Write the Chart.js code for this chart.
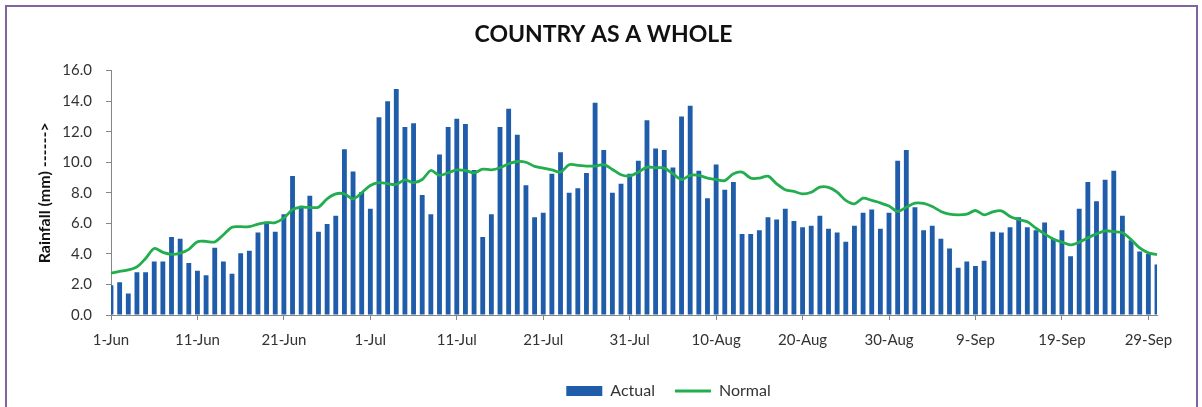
<!DOCTYPE html>
<html>
<head>
<meta charset="utf-8">
<title>Country as a whole - daily rainfall</title>
<script src="https://cdn.jsdelivr.net/npm/chart.js@4.4.1/dist/chart.umd.min.js"></script>
<style>
  html, body { margin: 0; padding: 0; background: #fff; }
  #wrap { position: relative; width: 1202px; height: 407px; overflow: hidden; }
  #frame {
    position: absolute; left: 5px; top: 5px; width: 1189px; height: 420px;
    border: 2px solid #8064a2; pointer-events: none;
  }
</style>
</head>
<body>
<div id="wrap">
  <canvas id="rainChart" width="1202" height="407"></canvas>
  <div id="frame"></div>
</div>
<script>
// months covered (1 Jun - 30 Sep)
const months = ['Jun', 'Jul', 'Aug', 'Sep'];
const monthDays = [30, 31, 31, 30];

// daily actual rainfall (mm)
const actual = [
  1.95, 2.15, 1.4, 2.8, 2.8, 3.5, 3.5, 5.1, 5.0, 3.4,
  2.9, 2.6, 4.4, 3.5, 2.7, 4.05, 4.2, 5.4, 6.1, 5.45,
  6.6, 9.1, 7.15, 7.8, 5.45, 5.95, 6.5, 10.85, 9.4, 8.05,
  6.95, 12.95, 14.0, 14.8, 12.3, 12.55, 7.85, 6.6, 10.5, 12.3,
  12.85, 12.5, 9.5, 5.1, 6.6, 12.3, 13.5, 11.8, 8.5, 6.4,
  6.7, 9.25, 10.65, 8.0, 8.3, 9.3, 13.9, 10.8, 8.0, 8.6,
  9.25, 10.1, 12.75, 10.9, 10.8, 9.65, 13.0, 13.7, 9.45, 7.65,
  9.85, 8.2, 8.7, 5.3, 5.3, 5.55, 6.4, 6.25, 6.95, 6.15,
  5.75, 5.85, 6.5, 5.65, 5.4, 4.8, 5.85, 6.7, 6.9, 5.65,
  6.7, 10.1, 10.8, 7.05, 5.55, 5.85, 5.0, 4.35, 3.1, 3.5,
  3.2, 3.55, 5.45, 5.4, 5.75, 6.4, 5.75, 5.55, 6.05, 5.0,
  5.55, 3.85, 6.95, 8.7, 7.45, 8.85, 9.45, 6.5, 4.9, 4.15,
  4.0, 3.3
];

// daily normal rainfall (mm)
const normal = [
  2.73, 2.85, 2.95, 3.15, 3.7, 4.35, 4.1, 3.97, 4.05, 4.3,
  4.8, 4.82, 4.78, 5.25, 5.75, 5.78, 5.78, 5.95, 6.05, 6.05,
  6.35, 6.9, 7.06, 7.04, 7.06, 7.6, 7.93, 7.93, 7.6, 8.0,
  8.48, 8.66, 8.6, 8.55, 8.85, 8.66, 8.87, 9.46, 9.14, 9.31,
  9.5, 9.46, 9.31, 9.55, 9.5, 9.64, 9.9, 10.05, 10.0, 9.73,
  9.62, 9.5, 9.36, 9.84, 9.8, 9.75, 9.75, 9.84, 9.53, 9.18,
  9.1, 9.35, 9.68, 9.64, 9.62, 9.25, 8.87, 9.14, 9.14, 8.96,
  8.87, 8.8, 9.25, 9.36, 8.96, 8.96, 9.09, 8.59, 8.2, 8.09,
  7.93, 8.04, 8.37, 8.35, 8.04, 7.5, 7.28, 7.65, 7.5, 7.34,
  7.13, 6.78, 7.06, 7.32, 7.3, 7.1, 6.78, 6.6, 6.56, 6.6,
  6.84, 6.55, 6.75, 6.82, 6.45, 6.25, 6.1, 5.68, 5.31, 4.98,
  4.77, 4.59, 4.77, 5.05, 5.31, 5.51, 5.46, 5.38, 4.94, 4.39,
  4.07, 3.96
];

// day labels like "1-Jun"
const days = [];
months.forEach((m, i) => {
  for (let d = 1; d <= monthDays[i]; d++) days.push(d + '-' + m);
});

// a label every 10 days
const tickEvery = 10;

const fontFamily = 'Lato, "Open Sans", sans-serif';
const axisGrey = '#868686';

// title and legend are not centred on the plot in the original, move them a bit
const nudgeBoxes = {
  id: 'nudgeBoxes',
  afterLayout(chart) {
    chart.titleBlock.left += 25;
    chart.titleBlock.right += 25;
    chart.legend.left += 90;
    chart.legend.right += 90;
  }
};

const ctx = document.getElementById('rainChart').getContext('2d');

const rainChart = new Chart(ctx, {
  type: 'bar',
  data: {
    labels: days,
    datasets: [
      {
        type: 'bar',
        label: 'Actual',
        data: actual,
        backgroundColor: '#1f5ca9',
        borderWidth: 0,
        categoryPercentage: 1.0,
        barPercentage: 0.56,
        clip: 0,
        order: 1
      },
      {
        type: 'line',
        label: 'Normal',
        data: normal,
        borderColor: '#22ad4e',
        backgroundColor: '#22ad4e',
        borderWidth: 2.8,
        pointRadius: 0,
        tension: 0.3,
        fill: false,
        order: 0
      }
    ]
  },
  options: {
    responsive: false,
    animation: false,
    layout: {
      padding: { left: 0, right: 45, top: 0, bottom: -2 }
    },
    scales: {
      x: {
        offset: false,
        grid: {
          offset: false,
          drawOnChartArea: false,
          tickLength: 5,
          color: axisGrey
        },
        border: { color: axisGrey },
        ticks: {
          autoSkip: false,
          maxRotation: 0,
          padding: 11,
          color: '#333',
          font: { family: fontFamily, size: 15 }
        },
        afterBuildTicks(scale) {
          scale.ticks = scale.ticks.filter(t => t.value % tickEvery === 0);
        },
        afterFit(scale) {
          scale.height = 48;
        }
      },
      y: {
        min: 0,
        max: 16,
        grid: {
          drawOnChartArea: false,
          tickLength: 5,
          color: axisGrey
        },
        border: { color: axisGrey },
        ticks: {
          stepSize: 2,
          padding: 14,
          color: '#333',
          font: { family: fontFamily, size: 15 },
          callback: v => v.toFixed(1)
        },
        title: {
          display: true,
          text: 'Rainfall (mm) ------>',
          color: '#111',
          font: { family: fontFamily, size: 16, weight: 'bold' },
          padding: { top: 35, bottom: 0 }
        },
        afterFit(scale) {
          scale.width = 111;
        }
      }
    },
    plugins: {
      title: {
        display: true,
        text: 'COUNTRY AS A WHOLE',
        color: '#111',
        font: { family: fontFamily, size: 23, weight: 'bold' },
        padding: { top: 21, bottom: 22 }
      },
      legend: {
        position: 'bottom',
        labels: {
          usePointStyle: true,
          pointStyleWidth: 36,
          boxHeight: 10,
          padding: 20,
          color: '#333',
          font: { family: fontFamily, size: 16 },
          sort: (a, b) => a.datasetIndex - b.datasetIndex,
          generateLabels(chart) {
            const items = Chart.defaults.plugins.legend.labels.generateLabels(chart);
            items.forEach(item => {
              item.pointStyle = item.datasetIndex === 0 ? 'rect' : 'line';
            });
            return items;
          }
        }
      },
      tooltip: { enabled: false }
    }
  },
  plugins: [nudgeBoxes]
});
</script>
</body>
</html>
